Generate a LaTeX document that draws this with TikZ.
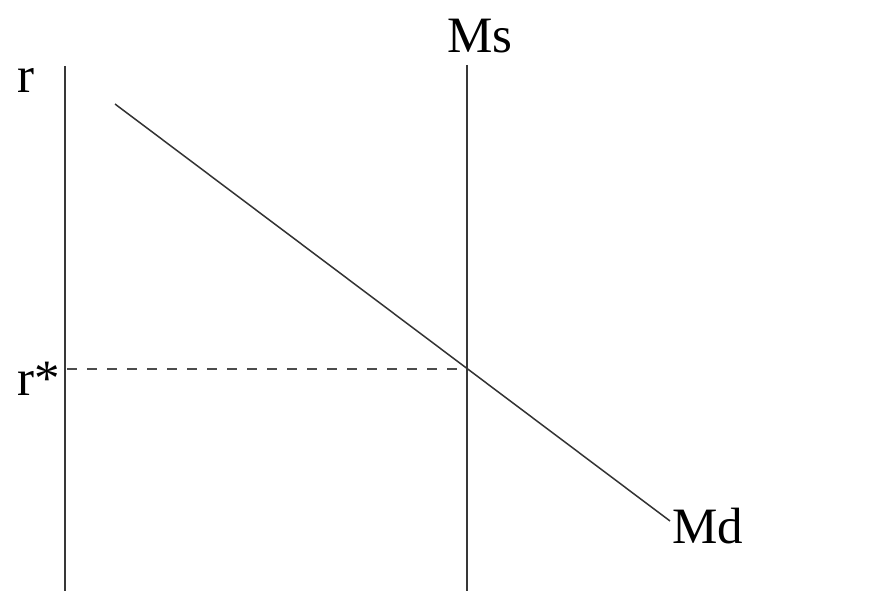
\documentclass[tikz,border=0pt]{standalone}
\usepackage{fontspec}
\setmainfont{Liberation Serif}
\tikzset{
  axisline/.style={line width=2.2pt, draw=black!78},
  curveline/.style={line width=1.5pt, draw=black!80},
  guideline/.style={line width=1.5pt, draw=black!70, dash pattern=on 10pt off 10pt},
  lbl/.style={inner sep=0pt, anchor=base west, font=\fontsize{51}{60}\selectfont, text=black}
}
\begin{document}
\begin{tikzpicture}[x=1pt,y=-1pt]
\useasboundingbox (0,0) rectangle (891,591);
\coordinate (ytop) at (65,66);
\coordinate (ybot) at (65,591);
\coordinate (mstop) at (467,65);
\coordinate (msbot) at (467,591);
\coordinate (mdstart) at (115,104);
\coordinate (mdend) at (670,521);
\coordinate (eq) at (467,369);
\coordinate (dashstart) at (67,369);
\draw[axisline] (ytop) -- (ybot);
\draw[axisline] (mstop) -- (msbot);
\draw[curveline] (mdstart) -- (mdend);
\draw[guideline] (dashstart) -- (eq);
\node[lbl] (r) at (17,93) {r};
\node[lbl] (rstar) at (17,395) {r*};
\node[lbl] (ms) at (447,53) {Ms};
\node[lbl] (md) at (672,543) {Md};
\end{tikzpicture}
\end{document}
